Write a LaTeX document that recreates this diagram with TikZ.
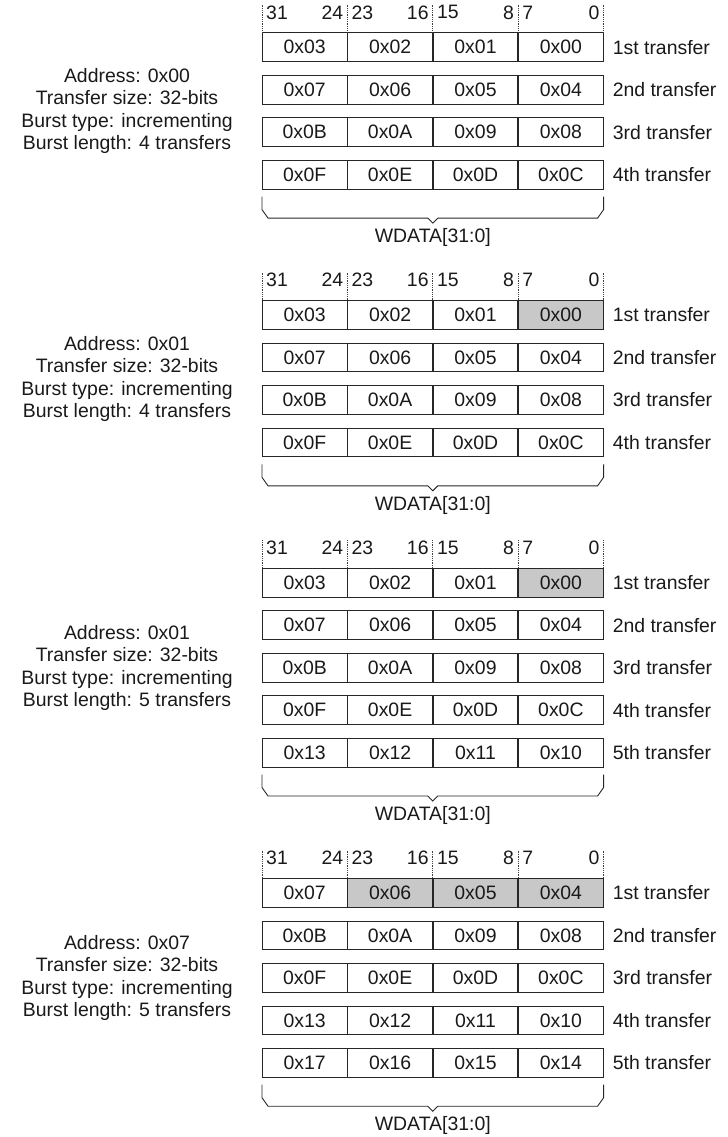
\documentclass[tikz,border=0pt]{standalone}
\usepackage{fontspec}
\setmainfont{Liberation Sans}
\usetikzlibrary{calc}
\usetikzlibrary{positioning}
\definecolor{bytegray}{RGB}{200,200,200}

\begin{document}
\begin{tikzpicture}[x=1bp,y=-1bp,
                    every node/.style={font=\fontsize{19.5}{22.5}\selectfont,text=black!90},
                    cell/.style={draw=black!85,line width=0.9bp,minimum width=84.5bp,
                                 minimum height=28.8bp,inner sep=0pt,anchor=north west},
                    hot/.style={cell,fill=bytegray},
                    bitno/.style={inner sep=0pt},
                    tick/.style={black!75,line width=0.8bp,densely dotted},
                    brace/.style={black!85,line width=0.9bp}]
 \useasboundingbox (0,0) rectangle (728,1137);

 % burst 1: address 0x00, 4 transfers
 \foreach \row/\ca/\cb/\cc/\cd/\nth in {1/0x03/0x02/0x01/0x00/1st,2/0x07/0x06/0x05/0x04/2nd,
                                         3/0x0B/0x0A/0x09/0x08/3rd,4/0x0F/0x0E/0x0D/0x0C/4th} {
   \node[cell] (a\row-1) at (262,{32.4+(\row-1)*42.5}) {\ca};
   \node[cell,right=0pt of a\row-1] (a\row-2) {\cb};
   \node[cell,right=0pt of a\row-2] (a\row-3) {\cc};
   \node[cell,right=0pt of a\row-3] (a\row-4) {\cd};
   \node[bitno,right=9bp of a\row-4] (a\row-t) {\nth\ transfer};
 }
 \node[align=center] (ainfo) at (127,111)
      {Address: 0x00\\Transfer size: 32-bits\\Burst type: incrementing\\Burst length: 4 transfers};
 \foreach \k/\hi/\lo in {1/31/24,2/23/16,3/15/8,4/7/0} {
   \draw[tick] (a1-\k.north west) -- ++(0,-27.4);
   \node[bitno,anchor=west] (ahi\k) at ($(a1-\k.north west)+(4,-20)$) {\hi};
   \node[bitno,anchor=east] (alo\k) at ($(a1-\k.north east)+(-4,-20)$) {\lo};
 }
 \draw[tick] (a1-4.north east) -- ++(0,-27.4);
 \draw[brace] ($(a4-1.south west)+(0,7)$) -- ++(0,13) -- ++(6,8.5)
      -- ($(a4-2.south east)+(-5,28.5)$) -- ++(5,5) -- ++(5,-5)
      -- ($(a4-4.south east)+(-6,28.5)$) -- ++(6,-8.5) -- ++(0,-13);
 \node (awdata) at ($(a4-2.south east)+(0,48)$) {WDATA[31:0]};

 % burst 2: address 0x01, 4 transfers
 \node[cell] (b1-1) at (262,300.1) {0x03};
 \node[cell,right=0pt of b1-1] (b1-2) {0x02};
 \node[cell,right=0pt of b1-2] (b1-3) {0x01};
 \node[hot,right=0pt of b1-3] (b1-4) {0x00};
 \node[bitno,right=9bp of b1-4] (b1-t) {1st transfer};
 \foreach \row/\ca/\cb/\cc/\cd/\nth in {2/0x07/0x06/0x05/0x04/2nd,
                                         3/0x0B/0x0A/0x09/0x08/3rd,4/0x0F/0x0E/0x0D/0x0C/4th} {
   \node[cell] (b\row-1) at (262,{300.1+(\row-1)*42.5}) {\ca};
   \node[cell,right=0pt of b\row-1] (b\row-2) {\cb};
   \node[cell,right=0pt of b\row-2] (b\row-3) {\cc};
   \node[cell,right=0pt of b\row-3] (b\row-4) {\cd};
   \node[bitno,right=9bp of b\row-4] (b\row-t) {\nth\ transfer};
 }
 \node[align=center] (binfo) at (127,378.8)
      {Address: 0x01\\Transfer size: 32-bits\\Burst type: incrementing\\Burst length: 4 transfers};
 \foreach \k/\hi/\lo in {1/31/24,2/23/16,3/15/8,4/7/0} {
   \draw[tick] (b1-\k.north west) -- ++(0,-27.4);
   \node[bitno,anchor=west] (bhi\k) at ($(b1-\k.north west)+(4,-20)$) {\hi};
   \node[bitno,anchor=east] (blo\k) at ($(b1-\k.north east)+(-4,-20)$) {\lo};
 }
 \draw[tick] (b1-4.north east) -- ++(0,-27.4);
 \draw[brace] ($(b4-1.south west)+(0,7)$) -- ++(0,13) -- ++(6,8.5)
      -- ($(b4-2.south east)+(-5,28.5)$) -- ++(5,5) -- ++(5,-5)
      -- ($(b4-4.south east)+(-6,28.5)$) -- ++(6,-8.5) -- ++(0,-13);
 \node (bwdata) at ($(b4-2.south east)+(0,48)$) {WDATA[31:0]};

 % burst 3: address 0x01, 5 transfers
 \node[cell] (c1-1) at (262,567.8) {0x03};
 \node[cell,right=0pt of c1-1] (c1-2) {0x02};
 \node[cell,right=0pt of c1-2] (c1-3) {0x01};
 \node[hot,right=0pt of c1-3] (c1-4) {0x00};
 \node[bitno,right=9bp of c1-4] (c1-t) {1st transfer};
 \foreach \row/\ca/\cb/\cc/\cd/\nth in {2/0x07/0x06/0x05/0x04/2nd,3/0x0B/0x0A/0x09/0x08/3rd,
                                         4/0x0F/0x0E/0x0D/0x0C/4th,5/0x13/0x12/0x11/0x10/5th} {
   \node[cell] (c\row-1) at (262,{567.8+(\row-1)*42.5}) {\ca};
   \node[cell,right=0pt of c\row-1] (c\row-2) {\cb};
   \node[cell,right=0pt of c\row-2] (c\row-3) {\cc};
   \node[cell,right=0pt of c\row-3] (c\row-4) {\cd};
   \node[bitno,right=9bp of c\row-4] (c\row-t) {\nth\ transfer};
 }
 \node[align=center] (cinfo) at (127,668)
      {Address: 0x01\\Transfer size: 32-bits\\Burst type: incrementing\\Burst length: 5 transfers};
 \foreach \k/\hi/\lo in {1/31/24,2/23/16,3/15/8,4/7/0} {
   \draw[tick] (c1-\k.north west) -- ++(0,-27.4);
   \node[bitno,anchor=west] (chi\k) at ($(c1-\k.north west)+(4,-20)$) {\hi};
   \node[bitno,anchor=east] (clo\k) at ($(c1-\k.north east)+(-4,-20)$) {\lo};
 }
 \draw[tick] (c1-4.north east) -- ++(0,-27.4);
 \draw[brace] ($(c5-1.south west)+(0,7)$) -- ++(0,13) -- ++(6,8.5)
      -- ($(c5-2.south east)+(-5,28.5)$) -- ++(5,5) -- ++(5,-5)
      -- ($(c5-4.south east)+(-6,28.5)$) -- ++(6,-8.5) -- ++(0,-13);
 \node (cwdata) at ($(c5-2.south east)+(0,48)$) {WDATA[31:0]};

 % burst 4: address 0x07, 5 transfers
 \node[cell] (d1-1) at (262,878) {0x07};
 \node[hot,right=0pt of d1-1] (d1-2) {0x06};
 \node[hot,right=0pt of d1-2] (d1-3) {0x05};
 \node[hot,right=0pt of d1-3] (d1-4) {0x04};
 \node[bitno,right=9bp of d1-4] (d1-t) {1st transfer};
 \foreach \row/\ca/\cb/\cc/\cd/\nth in {2/0x0B/0x0A/0x09/0x08/2nd,3/0x0F/0x0E/0x0D/0x0C/3rd,
                                         4/0x13/0x12/0x11/0x10/4th,5/0x17/0x16/0x15/0x14/5th} {
   \node[cell] (d\row-1) at (262,{878+(\row-1)*42.5}) {\ca};
   \node[cell,right=0pt of d\row-1] (d\row-2) {\cb};
   \node[cell,right=0pt of d\row-2] (d\row-3) {\cc};
   \node[cell,right=0pt of d\row-3] (d\row-4) {\cd};
   \node[bitno,right=9bp of d\row-4] (d\row-t) {\nth\ transfer};
 }
 \node[align=center] (dinfo) at (127,978)
      {Address: 0x07\\Transfer size: 32-bits\\Burst type: incrementing\\Burst length: 5 transfers};
 \foreach \k/\hi/\lo in {1/31/24,2/23/16,3/15/8,4/7/0} {
   \draw[tick] (d1-\k.north west) -- ++(0,-27.4);
   \node[bitno,anchor=west] (dhi\k) at ($(d1-\k.north west)+(4,-20)$) {\hi};
   \node[bitno,anchor=east] (dlo\k) at ($(d1-\k.north east)+(-4,-20)$) {\lo};
 }
 \draw[tick] (d1-4.north east) -- ++(0,-27.4);
 \draw[brace] ($(d5-1.south west)+(0,7)$) -- ++(0,13) -- ++(6,8.5)
      -- ($(d5-2.south east)+(-5,28.5)$) -- ++(5,5) -- ++(5,-5)
      -- ($(d5-4.south east)+(-6,28.5)$) -- ++(6,-8.5) -- ++(0,-13);
 \node (dwdata) at ($(d5-2.south east)+(0,48)$) {WDATA[31:0]};
\end{tikzpicture}
\end{document}
